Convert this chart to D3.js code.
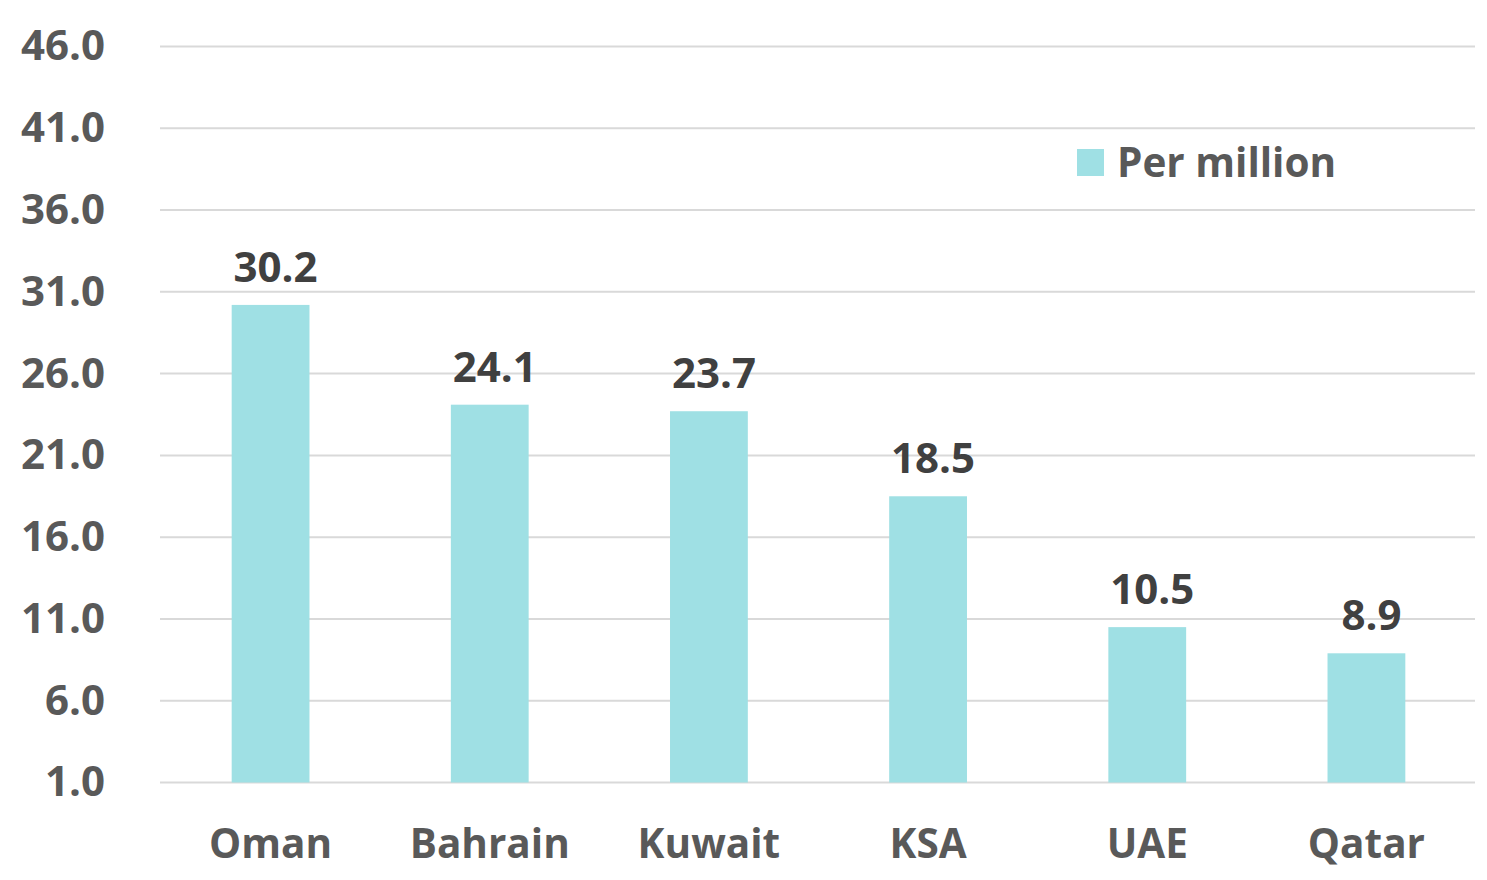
<!DOCTYPE html>
<html>
<head>
<meta charset="utf-8">
<script src="https://cdn.jsdelivr.net/npm/d3@7"></script>
<style>
  body { margin: 0; background: #fff; }
  text { font-family: "Open Sans", sans-serif; font-weight: 700; }
</style>
</head>
<body>
<div id="chart"></div>
<script>
const countries = ["Oman", "Bahrain", "Kuwait", "KSA", "UAE", "Qatar"]
const perMillion = [30.2, 24.1, 23.7, 18.5, 10.5, 8.9]
const yTicks = [1, 6, 11, 16, 21, 26, 31, 36, 41, 46]
const seriesName = "Per million"

let dim = {
  'width': 1487,
  'height': 880
}

let svg = d3.select('#chart').append('svg')
    .attr('width', dim.width)
    .attr('height', dim.height)

let scaleX = d3.scaleBand()
    .domain(countries)
    .range([161, 1476])
    .paddingInner(0.645)
    .paddingOuter(0.3225)

let scaleY = d3.scaleLinear()
    .domain([1, 46])
    .range([782.5, 46.5])

// gridlines
svg.append('g')
    .selectAll('line')
    .data(yTicks)
    .enter()
    .append('line')
    .attr('x1', 160)
    .attr('x2', 1475)
    .attr('y1', d => scaleY(d))
    .attr('y2', d => scaleY(d))
    .attr('stroke', '#d9d9d9')
    .attr('stroke-width', 2)

// y axis labels
let axisY = d3.axisLeft(scaleY)
    .tickValues(yTicks)
    .tickFormat(d3.format('.1f'))
    .tickSize(0)
    .tickPadding(0)

svg.append('g')
    .attr('transform', 'translate(105,0)')
    .call(axisY)
    .call(g => g.select('.domain').remove())
    .call(g => g.selectAll('text')
        .attr('fill', '#595959')
        .attr('font-size', 42)
        .attr('font-family', '"Open Sans", sans-serif')
        .attr('font-weight', 700))

// x axis labels
let axisX = d3.axisBottom(scaleX).tickSize(0).tickPadding(0)

svg.append('g')
    .attr('transform', 'translate(0,829)')
    .call(axisX)
    .call(g => g.select('.domain').remove())
    .call(g => g.selectAll('text')
        .attr('fill', '#595959')
        .attr('font-size', 40.5)
        .attr('font-family', '"Open Sans", sans-serif')
        .attr('font-weight', 700))

let data = countries.map((c, i) => ({name: c, value: perMillion[i]}))

svg.selectAll('rect.bar')
    .data(data)
    .enter()
    .append('rect')
    .attr('class', 'bar')
    .attr('x', d => scaleX(d.name))
    .attr('y', d => scaleY(d.value))
    .attr('width', scaleX.bandwidth())
    .attr('height', d => scaleY(1) - scaleY(d.value))
    .attr('fill', '#9fe0e4')

svg.selectAll('text.val')
    .data(data)
    .enter()
    .append('text')
    .attr('class', 'val')
    .attr('x', d => scaleX(d.name) + scaleX.bandwidth() / 2 + 5)
    .attr('y', d => scaleY(d.value) - 23)
    .attr('text-anchor', 'middle')
    .attr('fill', '#404040')
    .attr('font-size', 42)
    .text(d => d.value.toFixed(1))

// legend
let legend = svg.append('g').attr('transform', 'translate(1077,149)')
legend.append('rect')
    .attr('width', 27)
    .attr('height', 27)
    .attr('fill', '#9fe0e4')
legend.append('text')
    .attr('x', 40)
    .attr('y', 28)
    .attr('fill', '#595959')
    .attr('font-size', 40.5)
    .text(seriesName)
</script>
</body>
</html>
